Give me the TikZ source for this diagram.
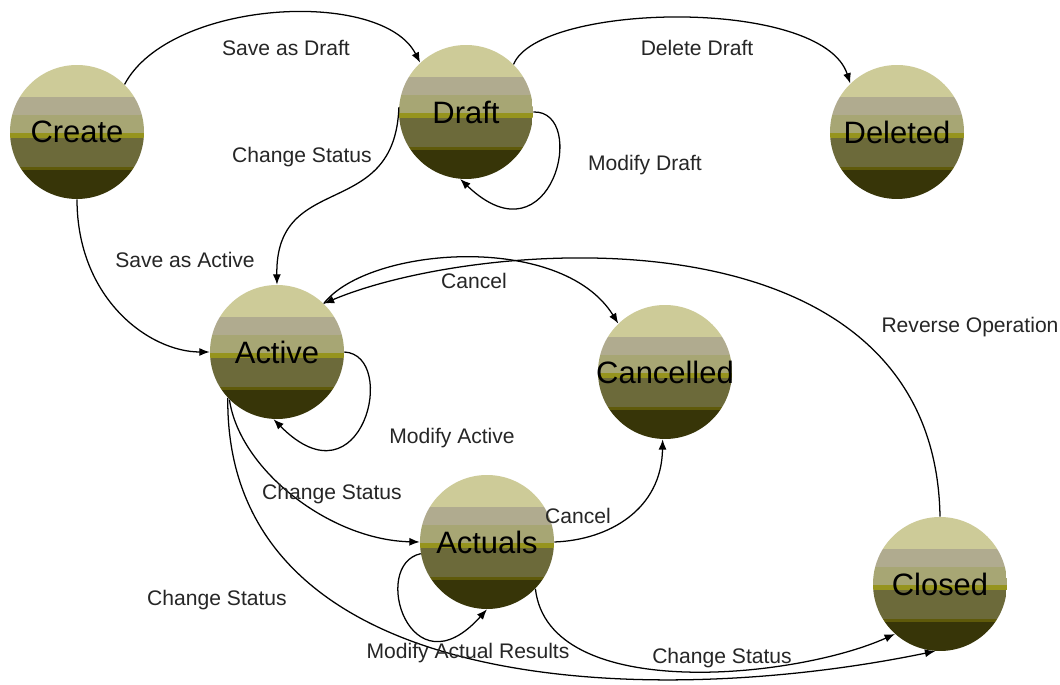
\documentclass[tikz,border=0pt]{standalone}
\usepackage{fontspec}
\setmainfont{Liberation Sans}
\usepackage{tikz}
\usepackage{xcolor}
\usetikzlibrary{arrows.meta,calc}
\definecolor{bandA}{RGB}{205,203,152}
\definecolor{bandB}{RGB}{176,171,143}
\definecolor{bandC}{RGB}{167,166,116}
\definecolor{bandD}{RGB}{150,148,30}
\definecolor{bandE}{RGB}{108,106,58}
\definecolor{bandF}{RGB}{95,90,10}
\definecolor{bandG}{RGB}{55,53,8}
\newcommand{\stname}[1]{\makebox[0pt]{#1}}

\tikzset{
  state/.style={circle,minimum size=3.35cm,inner sep=0pt,
    font=\fontsize{22}{24}\selectfont,
    path picture={
      \foreach \c/\a/\b in {bandA/0/0.24,bandB/0.24/0.37,bandC/0.37/0.51,
                            bandD/0.51/0.545,bandE/0.545/0.76,bandF/0.76/0.785,
                            bandG/0.785/1}{
        \fill[\c] ($(path picture bounding box.north west)!\a!(path picture bounding box.south west)$)
          rectangle ($(path picture bounding box.north east)!\b!(path picture bounding box.south east)$);
      }
    }},
  trans/.style={line width=0.9pt,-{Latex[length=2.6mm,width=2mm]}},
  lbl/.style={font=\fontsize{15}{17}\selectfont,text=black!85}
}

\begin{document}
\begin{tikzpicture}

\fill[white] (0,0) rectangle (26.5,17.125);
\useasboundingbox (0,0) rectangle (26.5,17.125);

% ---------------- states ----------------
\foreach \n/\x/\y/\t in {create/1.925/13.825/Create,
                         draft/11.65/14.325/Draft,
                         deleted/22.425/13.825/Deleted,
                         active/6.925/8.325/Active,
                         cancelled/16.625/7.825/Cancelled,
                         actuals/12.175/3.575/Actuals,
                         closed/23.5/2.525/Closed}{
  \node[state] (\n) at (\x,\y) {\stname{\t}};
}

% ---------------- transitions ----------------
\draw[trans] (create.45) .. controls +(1.125,2.125) and +(-0.95,1.875) .. (draft.133);
\draw[trans] (draft.45) .. controls +(0.625,1.55) and +(-0.7,2.175) .. (deleted.134);
\draw[trans] (draft.0) .. controls +(1.4,0.05) and +(2.3,-2.2) .. (draft.265);
\draw[trans] (draft.176) .. controls +(-0.1,-2.875) and +(-0.05,2.875) .. (active.north);
\draw[trans] (create.south) .. controls +(0,-2.5) and +(-1.5,0) .. (active.west);
\draw[trans] (active.46) .. controls +(1.1,1.425) and +(-1.425,2.3) .. (cancelled.134);
\draw[trans] (closed.north) .. controls +(-0.125,7.925) and +(3.825,1.625) .. (active.46);
\draw[trans] (active.0) .. controls +(1.375,-0.075) and +(2.225,-2.25) .. (active.267);
\draw[trans] (active.225) .. controls +(0.25,-1.75) and +(-2.25,0.05) .. (actuals.west);
\draw[trans] (active.223) .. controls +(-0.075,-7.5) and +(-7.125,-1.475) .. (closed.266);
\draw[trans] (actuals.east) .. controls +(1.375,0.05) and +(-0.025,-1.75) .. (cancelled.268);
\draw[trans] (actuals.190) .. controls +(-1.275,-0.275) and +(-1.925,-2.15) .. (actuals.south);
\draw[trans] (actuals.-44) .. controls +(0.325,-2.875) and +(-2.5,-1.125) .. (closed.228);

% ---------------- labels ----------------
\node[lbl] (savedraft)   at (7.15,15.925)  {Save as Draft};
\node[lbl] (deldraft)    at (17.425,15.925){Delete Draft};
\node[lbl] (chdraft)     at (7.55,13.2)    {Change Status};
\node[lbl] (moddraft)    at (16.125,13.0)  {Modify Draft};
\node[lbl] (saveactive)  at (4.625,10.625) {Save as Active};
\node[lbl] (cancelact)   at (11.85,10.1)   {Cancel};
\node[lbl] (reverse)     at (24.25,8.95)   {Reverse Operation};
\node[lbl] (modactive)   at (11.3,6.175)   {Modify Active};
\node[lbl] (chactuals)   at (8.3,4.775)    {Change Status};
\node[lbl] (cancelres)   at (14.45,4.225)  {Cancel};
\node[lbl] (chclosed)    at (5.425,2.125)  {Change Status};
\node[lbl] (modresults)  at (11.7,0.8)     {Modify Actual Results};
\node[lbl] (chresults)   at (18.05,0.675)  {Change Status};

\end{tikzpicture}
\end{document}
